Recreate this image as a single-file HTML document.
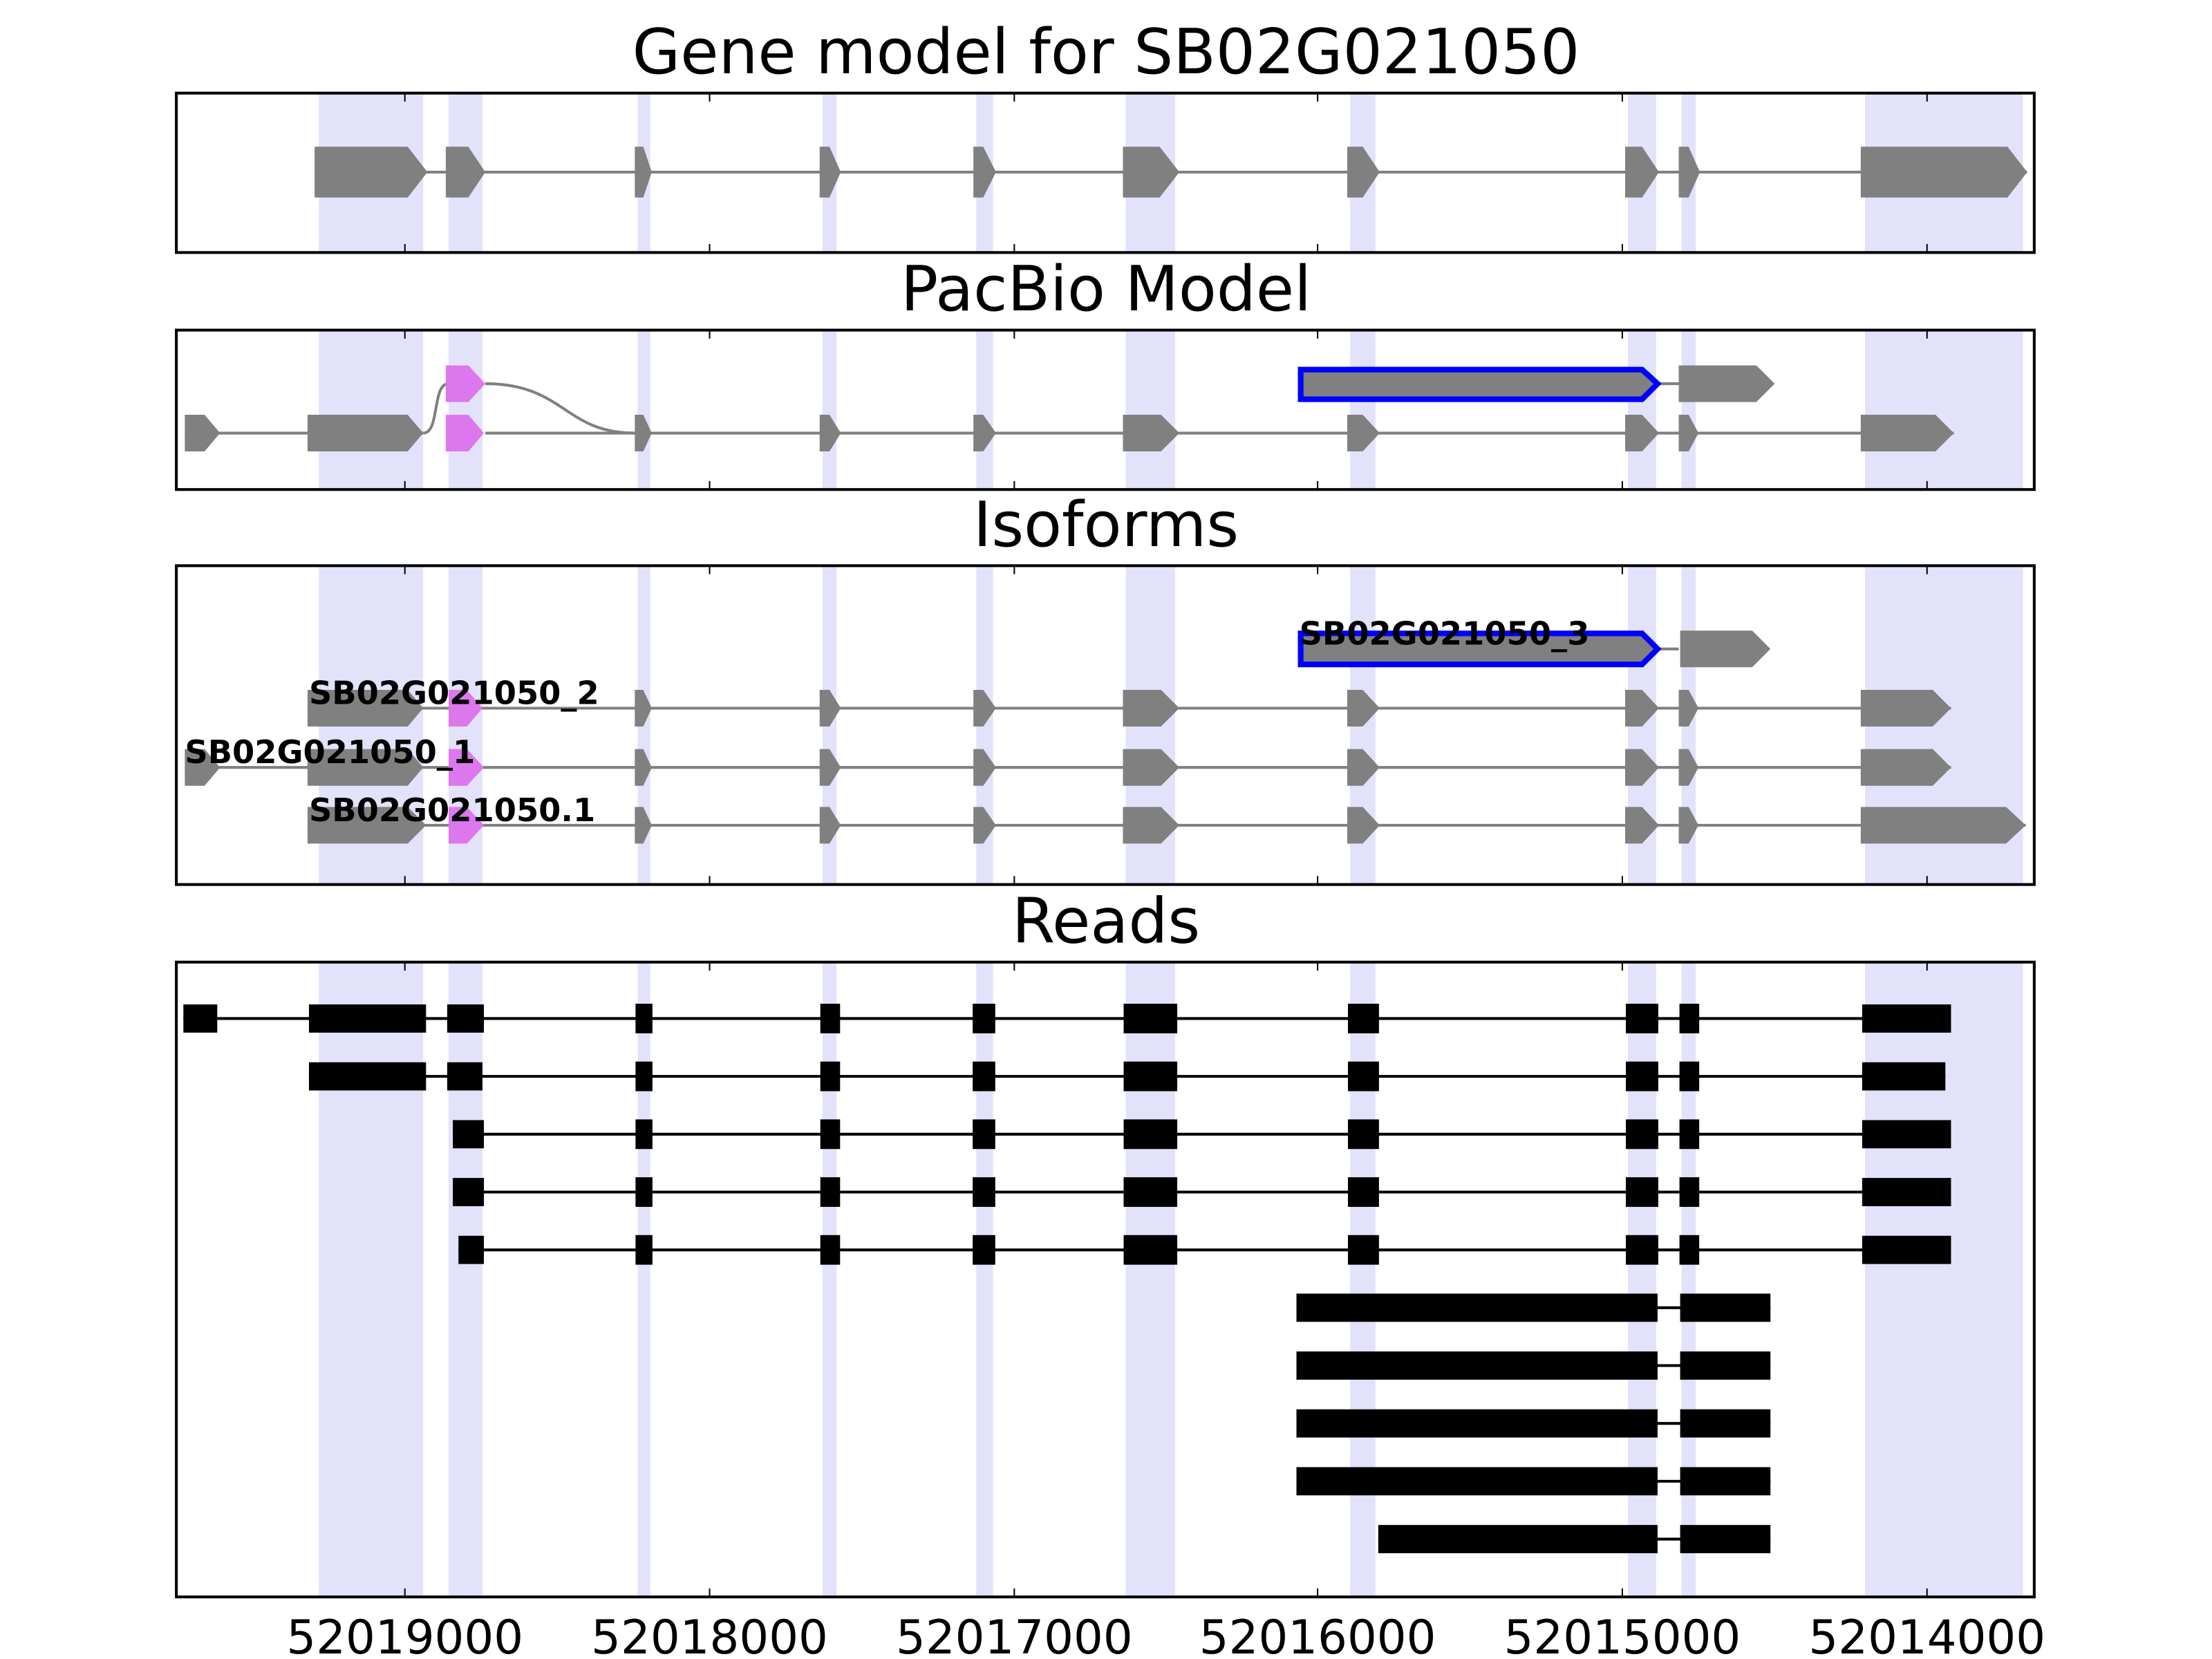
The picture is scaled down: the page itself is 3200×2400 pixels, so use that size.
<!DOCTYPE html>
<html><head><meta charset="utf-8"><style>html,body{margin:0;padding:0;background:#fff;overflow:hidden}svg{display:block}</style></head><body>
<svg width="3200" height="2400" viewBox="0 0 1568 1176" xmlns="http://www.w3.org/2000/svg" font-family="'DejaVu Sans','Liberation Sans',sans-serif">
<rect width="1568" height="1176" fill="#fff"/>
<defs>
<g id="shade">
<rect x="226" width="74" height="1000" fill="#e2e2fb"/>
<rect x="318" width="24" height="1000" fill="#e2e2fb"/>
<rect x="452" width="9" height="1000" fill="#e2e2fb"/>
<rect x="583" width="10" height="1000" fill="#e2e2fb"/>
<rect x="692" width="12" height="1000" fill="#e2e2fb"/>
<rect x="798" width="35" height="1000" fill="#e2e2fb"/>
<rect x="957" width="18" height="1000" fill="#e2e2fb"/>
<rect x="1154" width="20" height="1000" fill="#e2e2fb"/>
<rect x="1192" width="10" height="1000" fill="#e2e2fb"/>
<rect x="1322" width="112" height="1000" fill="#e2e2fb"/>
</g>
<clipPath id="c1"><rect x="125" y="66" width="1317" height="113"/></clipPath>
<clipPath id="c2"><rect x="125" y="234" width="1317" height="113"/></clipPath>
<clipPath id="c3"><rect x="125" y="401" width="1317" height="226"/></clipPath>
<clipPath id="c4"><rect x="125" y="682" width="1317" height="450"/></clipPath>
<g id="ticks" stroke="#000" stroke-width="1">
<line x1="287" x2="287" y1="0" y2="6"/><line x1="503" x2="503" y1="0" y2="6"/><line x1="719" x2="719" y1="0" y2="6"/><line x1="934" x2="934" y1="0" y2="6"/><line x1="1150" x2="1150" y1="0" y2="6"/><line x1="1366" x2="1366" y1="0" y2="6"/>
</g>
<g id="r1s">
<rect x="451" y="-10" width="11" height="20"/>
<rect x="582" y="-10" width="13" height="20"/>
<rect x="690" y="-10" width="15" height="20"/>
<rect x="797" y="-10" width="37" height="20"/>
<rect x="956" y="-10" width="21" height="20"/>
<rect x="1153" y="-10" width="22" height="20"/>
<rect x="1191" y="-10" width="13" height="20"/>
</g>
<g id="iso">
<polygon points="450,489 456,489 462,502 456,515 450,515"/>
<polygon points="581,489 588,489 596,502 588,515 581,515"/>
<polygon points="690,489 697,489 706,502 697,515 690,515"/>
<polygon points="796,489 823,489 836,502 823,515 796,515"/>
<polygon points="955,489 966,489 978,502 966,515 955,515"/>
<polygon points="1152,489 1164,489 1176,502 1164,515 1152,515"/>
<polygon points="1190,489 1197,489 1204,502 1197,515 1190,515"/>
</g>
</defs>
<g font-size="44" text-anchor="middle">
<text x="784" y="52">Gene model for SB02G021050</text>
<text x="784" y="220">PacBio Model</text>
<text x="784" y="387">Isoforms</text>
<text x="784" y="668">Reads</text>
</g>
<g clip-path="url(#c1)"><use href="#shade" y="60"/></g>
<g clip-path="url(#c2)"><use href="#shade" y="230"/></g>
<g clip-path="url(#c3)"><use href="#shade" y="400"/></g>
<g clip-path="url(#c4)"><use href="#shade" y="680"/></g>

<g fill="#808080">
<line x1="223" x2="1437" y1="122" y2="122" stroke="#808080" stroke-width="2"/>
<polygon points="223,104 289,104 303,122 289,140 223,140"/>
<polygon points="316,104 332,104 344,122 332,140 316,140"/>
<polygon points="450,104 456,104 462,122 456,140 450,140"/>
<polygon points="581,104 588,104 596,122 588,140 581,140"/>
<polygon points="690,104 697,104 706,122 697,140 690,140"/>
<polygon points="796,104 822,104 836,122 822,140 796,140"/>
<polygon points="955,104 966,104 978,122 966,140 955,140"/>
<polygon points="1152,104 1164,104 1176,122 1164,140 1152,140"/>
<polygon points="1190,104 1197,104 1205,122 1197,140 1190,140"/>
<polygon points="1319,104 1423,104 1437,122 1423,140 1319,140"/>
</g>

<g fill="#808080" stroke-width="2">
<line x1="131" x2="300" y1="307" y2="307" stroke="#808080"/>
<line x1="344" x2="1385" y1="307" y2="307" stroke="#808080"/>
<path d="M300,307 C312,307 306,272 318,272 M344,272 C400,272 400,307 450,307" fill="none" stroke="#808080"/>
<line x1="1176" x2="1190" y1="272" y2="272" stroke="#808080"/>
<polygon points="131,294 145,294 156,307 145,320 131,320"/>
<polygon points="218,294 289,294 300,307 289,320 218,320"/>
<polygon points="316,294 332,294 343,307 332,320 316,320" fill="#dd77ee"/>
<polygon points="316,259 332,259 344,272 332,285 316,285" fill="#dd77ee"/>
<polygon points="450,294 456,294 462,307 456,320 450,320"/>
<polygon points="581,294 588,294 596,307 588,320 581,320"/>
<polygon points="690,294 697,294 706,307 697,320 690,320"/>
<polygon points="796,294 823,294 836,307 823,320 796,320"/>
<polygon points="955,294 966,294 978,307 966,320 955,320"/>
<polygon points="1152,294 1164,294 1176,307 1164,320 1152,320"/>
<polygon points="1190,294 1197,294 1204,307 1197,320 1190,320"/>
<polygon points="1319,294 1372,294 1385,307 1372,320 1319,320"/>
<polygon points="922,262 1164,262 1175,272 1164,283 922,283" stroke="#0000ff" stroke-width="4"/>
<polygon points="1190,259 1245,259 1258,272 1245,285 1190,285"/>
</g>

<g fill="#808080">
<line x1="1176" x2="1190" y1="460" y2="460" stroke="#808080" stroke-width="2"/>
<polygon points="922,449 1164,449 1175,460 1164,471 922,471" stroke="#0000ff" stroke-width="4"/>
<polygon points="1191,447 1242,447 1255,460 1242,473 1191,473"/>
<line x1="218" x2="1383" y1="502" y2="502" stroke="#808080" stroke-width="2"/>
<line x1="131" x2="1383" y1="544" y2="544" stroke="#808080" stroke-width="2"/>
<line x1="218" x2="1436" y1="585" y2="585" stroke="#808080" stroke-width="2"/>
<use href="#iso"/><use href="#iso" y="42"/><use href="#iso" y="83"/>
<polygon points="218,489 289,489 300,502 289,515 218,515"/>
<polygon points="1319,489 1370,489 1383,502 1370,515 1319,515"/>
<polygon points="131,531 145,531 156,544 145,557 131,557"/>
<polygon points="218,531 289,531 300,544 289,557 218,557"/>
<polygon points="1319,531 1370,531 1383,544 1370,557 1319,557"/>
<polygon points="218,572 289,572 302,585 289,598 218,598"/>
<polygon points="1319,572 1422,572 1436,585 1422,598 1319,598"/>
<polygon points="318,489 331,489 342,502 331,515 318,515" fill="#dd77ee"/>
<polygon points="318,531 331,531 343,544 331,557 318,557" fill="#dd77ee"/>
<polygon points="318,572 331,572 343,585 331,598 318,598" fill="#dd77ee"/>
</g>
<g font-size="22.7" font-weight="bold" fill="#000">
<text x="921" y="457">SB02G021050_3</text>
<text x="219" y="499">SB02G021050_2</text>
<text x="131" y="541">SB02G021050_1</text>
<text x="219" y="582">SB02G021050.1</text>
</g>

<g fill="#000" stroke="#000">
<g transform="translate(0,722)"><line x1="130" x2="1383" stroke-width="2"/><use href="#r1s"/><rect x="130" y="-10" width="24" height="20" stroke="none"/><rect x="219" y="-10" width="83" height="20" stroke="none"/><rect x="317" y="-10" width="26" height="20" stroke="none"/><rect x="1320" y="-10" width="63" height="20" stroke="none"/></g>
<g transform="translate(0,763)"><line x1="219" x2="1379" stroke-width="2"/><use href="#r1s"/><rect x="219" y="-10" width="83" height="20" stroke="none"/><rect x="317" y="-10" width="25" height="20" stroke="none"/><rect x="1320" y="-10" width="59" height="20" stroke="none"/></g>
<g transform="translate(0,804)"><line x1="321" x2="1383" stroke-width="2"/><use href="#r1s"/><rect x="321" y="-10" width="22" height="20" stroke="none"/><rect x="1320" y="-10" width="63" height="20" stroke="none"/></g>
<g transform="translate(0,845)"><line x1="321" x2="1383" stroke-width="2"/><use href="#r1s"/><rect x="321" y="-10" width="22" height="20" stroke="none"/><rect x="1320" y="-10" width="63" height="20" stroke="none"/></g>
<g transform="translate(0,886)"><line x1="325" x2="1383" stroke-width="2"/><use href="#r1s"/><rect x="325" y="-10" width="18" height="20" stroke="none"/><rect x="1320" y="-10" width="63" height="20" stroke="none"/></g>
<g transform="translate(0,927)"><line x1="919" x2="1255" stroke-width="2"/><rect x="919" y="-10" width="256" height="20" stroke="none"/><rect x="1191" y="-10" width="64" height="20" stroke="none"/></g>
<g transform="translate(0,968)"><line x1="919" x2="1255" stroke-width="2"/><rect x="919" y="-10" width="256" height="20" stroke="none"/><rect x="1191" y="-10" width="64" height="20" stroke="none"/></g>
<g transform="translate(0,1009)"><line x1="919" x2="1255" stroke-width="2"/><rect x="919" y="-10" width="256" height="20" stroke="none"/><rect x="1191" y="-10" width="64" height="20" stroke="none"/></g>
<g transform="translate(0,1050)"><line x1="919" x2="1255" stroke-width="2"/><rect x="919" y="-10" width="256" height="20" stroke="none"/><rect x="1191" y="-10" width="64" height="20" stroke="none"/></g>
<g transform="translate(0,1091)"><line x1="977" x2="1255" stroke-width="2"/><rect x="977" y="-10" width="198" height="20" stroke="none"/><rect x="1191" y="-10" width="64" height="20" stroke="none"/></g>
</g>

<g fill="none" stroke="#000" stroke-width="2">
<rect x="125" y="66" width="1317" height="113"/>
<rect x="125" y="234" width="1317" height="113"/>
<rect x="125" y="401" width="1317" height="226"/>
<rect x="125" y="682" width="1317" height="450"/>
</g>
<use href="#ticks" y="66"/><use href="#ticks" transform="translate(0,179) scale(1,-1)"/>
<use href="#ticks" y="234"/><use href="#ticks" transform="translate(0,347) scale(1,-1)"/>
<use href="#ticks" y="401"/><use href="#ticks" transform="translate(0,627) scale(1,-1)"/>
<use href="#ticks" y="682"/><use href="#ticks" transform="translate(0,1132) scale(1,-1)"/>
<g font-size="33" text-anchor="middle">
<text x="287" y="1172">52019000</text>
<text x="503" y="1172">52018000</text>
<text x="719" y="1172">52017000</text>
<text x="934" y="1172">52016000</text>
<text x="1150" y="1172">52015000</text>
<text x="1366" y="1172">52014000</text>
</g>
</svg>
</body></html>
